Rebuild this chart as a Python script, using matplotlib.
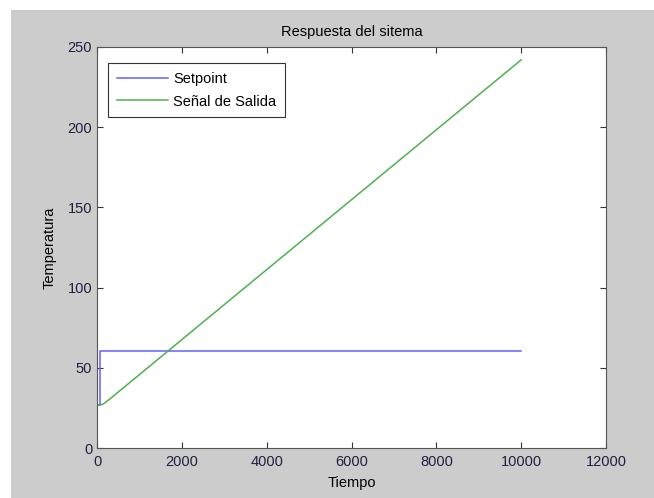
import matplotlib.pyplot as plt
from matplotlib.patches import Rectangle

# datos
t_set = [0, 70, 70, 10000]
setpoint = [27, 27, 60.5, 60.5]

t_out = [0, 60, 150, 300, 10000]
salida = [26.5, 26.6, 27.5, 30.5, 242]

plt.rcParams['font.family'] = ['Liberation Sans', 'DejaVu Sans']
fs = 10.5

fig = plt.figure(figsize=(6.54, 4.98), dpi=100, facecolor='white')
# fondo gris tipo MATLAB (debajo de los ejes)
fig.patches.append(Rectangle((11 / 654, 0), 1, 1 - 10 / 498, transform=fig.transFigure,
                             facecolor='#cccccc', edgecolor='none', zorder=-10))

ax = fig.add_axes([97 / 654, 1 - 448 / 498, (606 - 97) / 654, (448 - 47) / 498])
ax.plot(t_set, setpoint, color='#6060ff', lw=1.1, label='Setpoint')
ax.plot(t_out, salida, color='#50b050', lw=1.1, label='Señal de Salida')

ax.set_xlim(0, 12000)
ax.set_ylim(0, 250)
ax.set_xticks(range(0, 12001, 2000))
ax.set_yticks(range(0, 251, 50))
ax.tick_params(direction='in', top=True, right=True, length=4, labelsize=fs,
               colors='#333333', labelcolor='#202040')
ax.tick_params(axis='x', pad=5)
for s in ax.spines.values():
    s.set_color('#555555')

ax.set_title('Respuesta del sitema', fontsize=fs, pad=8)
ax.set_xlabel('Tiempo', fontsize=fs, labelpad=5)
ax.set_ylabel('Temperatura', fontsize=fs, labelpad=8)

leg = ax.legend(loc='upper left', bbox_to_anchor=(11 / 509, 1 - 16 / 401), borderaxespad=0,
                fontsize=fs, fancybox=False, framealpha=1, edgecolor='#333333',
                handlelength=3.5, labelspacing=0.6, handletextpad=0.35,
                borderpad=0.6)
leg.get_frame().set_linewidth(0.8)

fig.savefig('out.png', dpi=100, facecolor=fig.get_facecolor())
